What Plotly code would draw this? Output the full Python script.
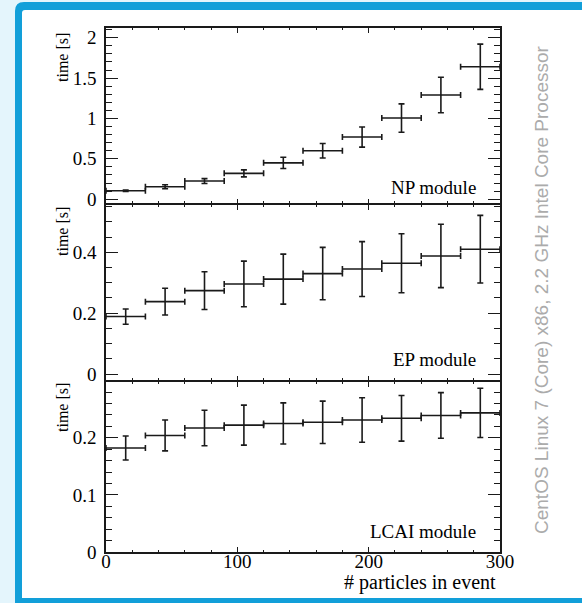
import plotly.graph_objects as go

# ---------------- data ----------------
bin_centers = [15, 45, 75, 105, 135, 165, 195, 225, 255, 285]
bin_half_width = [15, 15, 15, 15, 15, 15, 15, 15, 15, 15]

np_time = [0.105, 0.155, 0.225, 0.32, 0.45, 0.60, 0.77, 1.005, 1.29, 1.64]
np_err = [0.008, 0.025, 0.03, 0.043, 0.07, 0.09, 0.125, 0.175, 0.22, 0.28]

ep_time = [0.189, 0.238, 0.274, 0.296, 0.312, 0.330, 0.345, 0.364, 0.388, 0.410]
ep_err = [0.025, 0.044, 0.062, 0.075, 0.082, 0.086, 0.090, 0.097, 0.104, 0.111]

lcai_time = [0.182, 0.204, 0.217, 0.222, 0.225, 0.227, 0.231, 0.234, 0.239, 0.2435]
lcai_err = [0.021, 0.027, 0.031, 0.035, 0.036, 0.037, 0.039, 0.040, 0.040, 0.043]

module_names = ["NP module", "EP module", "LCAI module"]
x_tick_vals = [0, 100, 200, 300]
x_title = "# particles in event"
y_title = "time [s]"
side_text = "CentOS Linux 7 (Core) x86, 2.2 GHz Intel Core Processor"

# ---------------- layout helpers ----------------
W, H = 582, 603
def px(x):
    return x / W
def py(y):
    return 1 - y / H

SERIF = "Liberation Serif"
INK = "#1a1a1a"
FS = 19
LW = 1.5

fig = go.Figure()

series = [(np_time, np_err), (ep_time, ep_err), (lcai_time, lcai_err)]
for i, (vals, errs) in enumerate(series):
    suffix = "" if i == 0 else str(i + 1)
    fig.add_trace(go.Scatter(
        x=bin_centers, y=vals, mode="markers",
        marker=dict(size=1, color=INK),
        error_x=dict(type="data", array=bin_half_width, color=INK, thickness=1.6, width=3),
        error_y=dict(type="data", array=errs, color=INK, thickness=1.6, width=3),
        xaxis="x" + suffix, yaxis="y" + suffix, showlegend=False,
        cliponaxis=False,
    ))

x_dom = [px(106), px(500)]
h = LW / 2
panels = [  # (top px, bottom px, range, major dtick, minor dtick)
    (28, 204 - h, [-0.05, 2.12], 0.5, 0.1),
    (204 + h, 381 - h, [-0.02, 0.556], 0.2, 0.05),
    (381 + h, 552, [0.0, 0.298], 0.1, 0.02),
]

common_axis = dict(
    showline=True, linecolor=INK, linewidth=LW, mirror="ticks",
    ticks="inside", tickcolor=INK, tickwidth=1.4,
    showgrid=False, zeroline=False, automargin=False,
    tickfont=dict(family=SERIF, size=FS, color="black"),
)

layout_axes = {}
for i, (top, bot, yr, dmaj, dmin) in enumerate(panels):
    suffix = "" if i == 0 else str(i + 1)
    layout_axes["yaxis" + suffix] = dict(
        common_axis, domain=[py(bot), py(top)], range=yr,
        anchor="x" + suffix, tick0=0, dtick=dmaj, ticklen=12,
        minor=dict(ticks="inside", ticklen=6, dtick=dmin, tick0=0,
                   tickcolor=INK, tickwidth=1.4, showgrid=False),
        ticklabelstandoff=4,
    )
    layout_axes["xaxis" + suffix] = dict(
        common_axis, domain=x_dom, range=[0, 300],
        anchor="y" + suffix, tickvals=x_tick_vals, ticklen=5,
        showticklabels=(i == 2), ticklabelstandoff=-9,
        minor=dict(ticks="inside", ticklen=2.5, dtick=20, tick0=0,
                   tickcolor=INK, tickwidth=1.4, showgrid=False),
    )
    if i > 0:
        layout_axes["xaxis" + suffix]["matches"] = "x"

annotations = []
label_y = [187, 359, 531]
title_y = [58, 232, 408]
for i in range(3):
    annotations.append(dict(
        text=module_names[i], xref="paper", yref="paper",
        x=px(478), y=py(label_y[i]), xanchor="right", yanchor="middle",
        showarrow=False, font=dict(family=SERIF, size=FS, color="black")))
    annotations.append(dict(
        text=y_title, xref="paper", yref="paper",
        x=px(62), y=py(title_y[i]), xanchor="center", yanchor="middle",
        textangle=-90, showarrow=False,
        font=dict(family=SERIF, size=16, color="black")))

annotations.append(dict(
    text=x_title, xref="paper", yref="paper",
    x=px(498), y=py(582), xanchor="right", yanchor="middle",
    showarrow=False, font=dict(family=SERIF, size=20, color="black")))
annotations.append(dict(
    text=side_text, xref="paper", yref="paper",
    x=px(541), y=py(290), xanchor="center", yanchor="middle",
    textangle=-90, showarrow=False,
    font=dict(family="Liberation Sans", size=19, color="#ababab")))

# frame: blue rounded border + white interior
r = 9
ox0, oy0, ox1, oy1 = 15, 2, 620, 640
outer = (f"M {px(ox0)},{py(oy0 + r)} Q {px(ox0)},{py(oy0)} {px(ox0 + r)},{py(oy0)} "
         f"L {px(ox1)},{py(oy0)} L {px(ox1)},{py(oy1)} L {px(ox0)},{py(oy1)} Z")
ri = 3
ix0, iy0, ix1, iy1 = 22, 10, 620, 598
inner = (f"M {px(ix0)},{py(iy0 + ri)} Q {px(ix0)},{py(iy0)} {px(ix0 + ri)},{py(iy0)} "
         f"L {px(ix1)},{py(iy0)} L {px(ix1)},{py(iy1)} L {px(ix0)},{py(iy1)} Z")
shapes = [
    dict(type="path", path=outer, xref="paper", yref="paper",
         fillcolor="#129fd9", line=dict(width=0), layer="below"),
    dict(type="path", path=inner, xref="paper", yref="paper",
         fillcolor="white", line=dict(width=0), layer="below"),
]

fig.update_layout(
    width=W, height=H,
    margin=dict(l=0, r=0, t=0, b=0, pad=0, autoexpand=False),
    paper_bgcolor="#e4f5fc", plot_bgcolor="rgba(0,0,0,0)",
    annotations=annotations, shapes=shapes,
    **layout_axes,
)

fig.write_html("out.html")
